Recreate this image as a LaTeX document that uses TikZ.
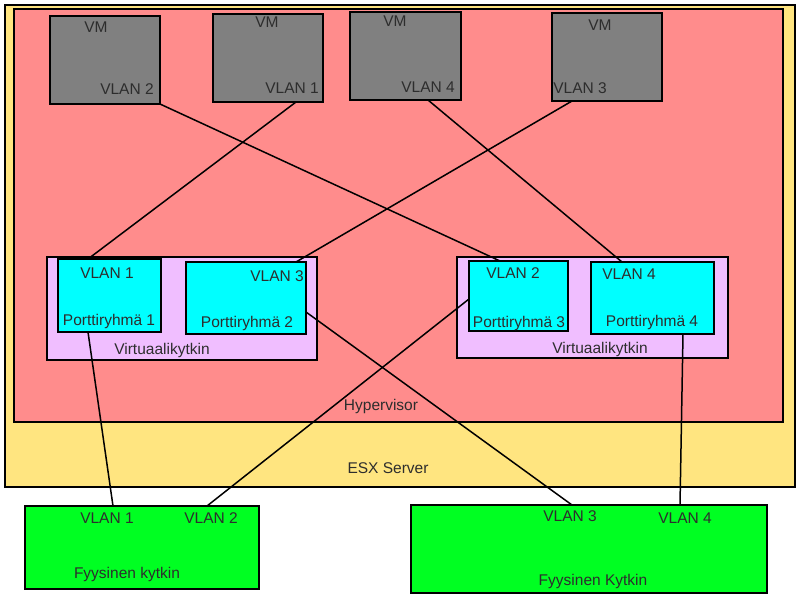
\documentclass[tikz,border=0pt]{standalone}
\usepackage{fontspec}
\setmainfont{Liberation Sans}
\definecolor{esxc}{RGB}{255,229,128}
\definecolor{hypc}{RGB}{255,140,140}
\definecolor{vmc}{RGB}{128,128,128}
\definecolor{vsc}{RGB}{240,190,255}
\definecolor{pgc}{RGB}{0,255,255}
\definecolor{psc}{RGB}{0,255,34}
\definecolor{txtc}{RGB}{45,45,45}
\tikzset{
  bx/.style={draw=black, line width=2pt, inner sep=0pt, outer sep=0pt, anchor=north west},
  lbl/.style={anchor=base, yshift=-5.5pt, inner sep=0pt, text=txtc, font=\fontsize{15.5}{18}\selectfont},
  wire/.style={draw=black, line width=1.5pt}
}
\begin{document}
\begin{tikzpicture}[x=1pt,y=-1pt]
\useasboundingbox[fill=white] (0,0) rectangle (800,600);
% containers
\node[bx, fill=esxc, minimum width=790pt, minimum height=482pt] (esx) at (5,5) {};
\node[bx, fill=hypc, minimum width=769pt, minimum height=413pt] (hyp) at (14,9) {};
% VMs
\node[bx, fill=vmc, minimum width=110pt, minimum height=88pt] (vm1) at (50,16) {};
\node[bx, fill=vmc, minimum width=110pt, minimum height=88pt] (vm2) at (213,14) {};
\node[bx, fill=vmc, minimum width=111pt, minimum height=88pt] (vm3) at (350,12) {};
\node[bx, fill=vmc, minimum width=110pt, minimum height=88pt] (vm4) at (552,13) {};
% virtual switches
\node[bx, fill=vsc, minimum width=270pt, minimum height=103pt] (vs1) at (47,257) {};
\node[bx, fill=vsc, minimum width=271pt, minimum height=101pt] (vs2) at (457,257) {};
% port groups
\node[bx, fill=pgc, minimum width=103pt, minimum height=73pt] (pg1) at (58,259) {};
\node[bx, fill=pgc, minimum width=120pt, minimum height=72pt] (pg2) at (186,262) {};
\node[bx, fill=pgc, minimum width=99pt, minimum height=70pt] (pg3) at (469,261) {};
\node[bx, fill=pgc, minimum width=123pt, minimum height=72pt] (pg4) at (591,262) {};
% physical switches
\node[bx, fill=psc, minimum width=234pt, minimum height=83pt] (ps1) at (25,506) {};
\node[bx, fill=psc, minimum width=356pt, minimum height=88pt] (ps2) at (411,505) {};
% labels
\node[lbl] (vm1a) at (96,27) {VM};
\node[lbl] (vm1b) at (127,89) {VLAN 2};
\node[lbl] (vm2a) at (267,22) {VM};
\node[lbl] (vm2b) at (292,88) {VLAN 1};
\node[lbl] (vm3a) at (395,21) {VM};
\node[lbl] (vm3b) at (428,87) {VLAN 4};
\node[lbl] (vm4a) at (600,25) {VM};
\node[lbl] (vm4b) at (580,88) {VLAN 3};
\node[lbl] (pg1a) at (107,273) {VLAN 1};
\node[lbl] (pg1b) at (109,320) {Porttiryhmä 1};
\node[lbl] (pg2a) at (277,276) {VLAN 3};
\node[lbl] (pg2b) at (247,322) {Porttiryhmä 2};
\node[lbl] (pg3a) at (513,273) {VLAN 2};
\node[lbl] (pg3b) at (519,322) {Porttiryhmä 3};
\node[lbl] (pg4a) at (629,274) {VLAN 4};
\node[lbl] (pg4b) at (652,321) {Porttiryhmä 4};
\node[lbl] (vs1a) at (162,349) {Virtuaalikytkin};
\node[lbl] (vs2a) at (600,348) {Virtuaalikytkin};
\node[lbl] (hypa) at (381,405) {Hypervisor};
\node[lbl] (esxa) at (388,468) {ESX Server};
\node[lbl] (ps1a) at (107,518) {VLAN 1};
\node[lbl] (ps1b) at (211,518) {VLAN 2};
\node[lbl] (ps1c) at (127,573) {Fyysinen kytkin};
\node[lbl] (ps2a) at (570,516) {VLAN 3};
\node[lbl] (ps2b) at (685,518) {VLAN 4};
\node[lbl] (ps2c) at (593,580) {Fyysinen Kytkin};
% connectors
\draw[wire] (vm1.south east) -- ([xshift=31pt]pg3.north west);
\draw[wire] ([xshift=83pt]vm2.south west) -- ([xshift=30pt]pg1.north west);
\draw[wire] ([xshift=78pt]vm3.south west) -- ([xshift=31pt]pg4.north west);
\draw[wire] ([xshift=20pt]vm4.south west) -- ([xshift=-10pt]pg2.north east);
\draw[wire] ([xshift=30pt]pg1.south west) -- ([xshift=88pt]ps1.north west);
\draw[wire] ([yshift=-38pt]pg3.north west) -- ([xshift=182pt]ps1.north west);
\draw[wire] ([yshift=-50pt]pg2.north east) -- ([xshift=161pt]ps2.north west);
\draw[wire] ([xshift=92pt]pg4.south west) -- ([xshift=269pt]ps2.north west);
\end{tikzpicture}
\end{document}
